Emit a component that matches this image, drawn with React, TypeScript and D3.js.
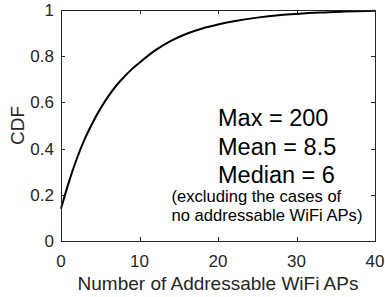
import { useEffect, useRef } from 'react';
import * as d3 from 'd3';

// CDF of number of addressable WiFi APs
const apCounts = [0, 1, 2, 3, 4, 5, 6, 7, 8, 9, 10, 12, 14, 16, 18, 20, 22, 25, 28, 30, 33, 36, 40];
const cdfValues = [0.14, 0.255, 0.355, 0.44, 0.51, 0.572, 0.625, 0.671, 0.709, 0.743, 0.772, 0.825, 0.866, 0.897, 0.92, 0.937, 0.951, 0.967, 0.978, 0.983, 0.989, 0.993, 0.997];

const xTicks = [0, 10, 20, 30, 40];
const yTicks = [0, 0.2, 0.4, 0.6, 0.8, 1];

const statLines = ['Max = 200', 'Mean = 8.5', 'Median = 6'];
const noteLines = ['(excluding the cases of', 'no addressable WiFi APs)'];

const W = 385;
const H = 297;
const margin = { top: 10, right: 10, bottom: 56, left: 61 };
const FONT = 'Liberation Sans, Arial, Helvetica, sans-serif';
const axisColor = '#262626';

export default function App() {
  const svgRef = useRef<SVGSVGElement>(null);

  useEffect(() => {
    if (!svgRef.current) return;
    const svg = d3.select(svgRef.current);
    svg.selectAll('*').remove();

    const x = d3.scaleLinear().domain([0, 40]).range([margin.left, W - margin.right]);
    const y = d3.scaleLinear().domain([0, 1]).range([H - margin.bottom, margin.top]);
    const [x0, x1] = x.range();
    const [y0, y1] = y.range();
    const tickLen = 4;

    const g = svg.append('g');

    // the curve
    const pts = apCounts.map((v, i) => [v, cdfValues[i]] as [number, number]);
    const line = d3.line<[number, number]>()
      .x((d) => x(d[0]))
      .y((d) => y(d[1]))
      .curve(d3.curveMonotoneX);
    g.append('path')
      .attr('d', line(pts))
      .attr('fill', 'none')
      .attr('stroke', '#000')
      .attr('stroke-width', 2);

    // box
    g.append('rect')
      .attr('x', x0 + 0.5)
      .attr('y', y1 + 0.5)
      .attr('width', x1 - x0)
      .attr('height', y0 - y1)
      .attr('fill', 'none')
      .attr('stroke', axisColor)
      .attr('stroke-width', 1);

    // ticks, inside on all four sides
    xTicks.forEach((t) => {
      const px = Math.round(x(t)) + 0.5;
      g.append('line').attr('x1', px).attr('x2', px).attr('y1', y0).attr('y2', y0 - tickLen).attr('stroke', axisColor);
      g.append('line').attr('x1', px).attr('x2', px).attr('y1', y1).attr('y2', y1 + tickLen).attr('stroke', axisColor);
      g.append('text')
        .attr('x', x(t))
        .attr('y', 267)
        .attr('text-anchor', 'middle')
        .attr('font-size', 17)
        .attr('font-family', FONT)
        .attr('fill', axisColor)
        .text(String(t));
    });
    yTicks.forEach((t) => {
      const py = Math.round(y(t)) + 0.5;
      g.append('line').attr('x1', x0).attr('x2', x0 + tickLen).attr('y1', py).attr('y2', py).attr('stroke', axisColor);
      g.append('line').attr('x1', x1).attr('x2', x1 - tickLen).attr('y1', py).attr('y2', py).attr('stroke', axisColor);
      g.append('text')
        .attr('x', x0 - 7)
        .attr('y', y(t))
        .attr('dy', '0.35em')
        .attr('text-anchor', 'end')
        .attr('font-size', 17)
        .attr('font-family', FONT)
        .attr('fill', axisColor)
        .text(String(t));
    });

    // axis labels
    g.append('text')
      .attr('x', (x0 + x1) / 2)
      .attr('y', 290)
      .attr('text-anchor', 'middle')
      .attr('font-size', 19)
      .attr('font-family', FONT)
      .attr('fill', axisColor)
      .text('Number of Addressable WiFi APs');
    g.append('text')
      .attr('transform', `translate(24,${(y0 + y1) / 2}) rotate(-90)`)
      .attr('text-anchor', 'middle')
      .attr('font-size', 19)
      .attr('font-family', FONT)
      .attr('fill', axisColor)
      .text('CDF');

    // annotation
    statLines.forEach((s, i) => {
      g.append('text')
        .attr('x', 218)
        .attr('y', 126 + i * 28.7)
        .attr('font-size', 23.5)
        .attr('font-family', FONT)
        .attr('fill', '#000')
        .text(s);
    });
    noteLines.forEach((s, i) => {
      g.append('text')
        .attr('x', 171.5)
        .attr('y', 202 + i * 18.5)
        .attr('font-size', 16.6)
        .attr('font-family', FONT)
        .attr('fill', '#000')
        .text(s);
    });
  }, []);

  return (
    <div style={{ position: 'absolute', left: 0, top: 0, background: '#fff' }}>
      <svg ref={svgRef} width={W} height={H} style={{ display: 'block' }} />
    </div>
  );
}
